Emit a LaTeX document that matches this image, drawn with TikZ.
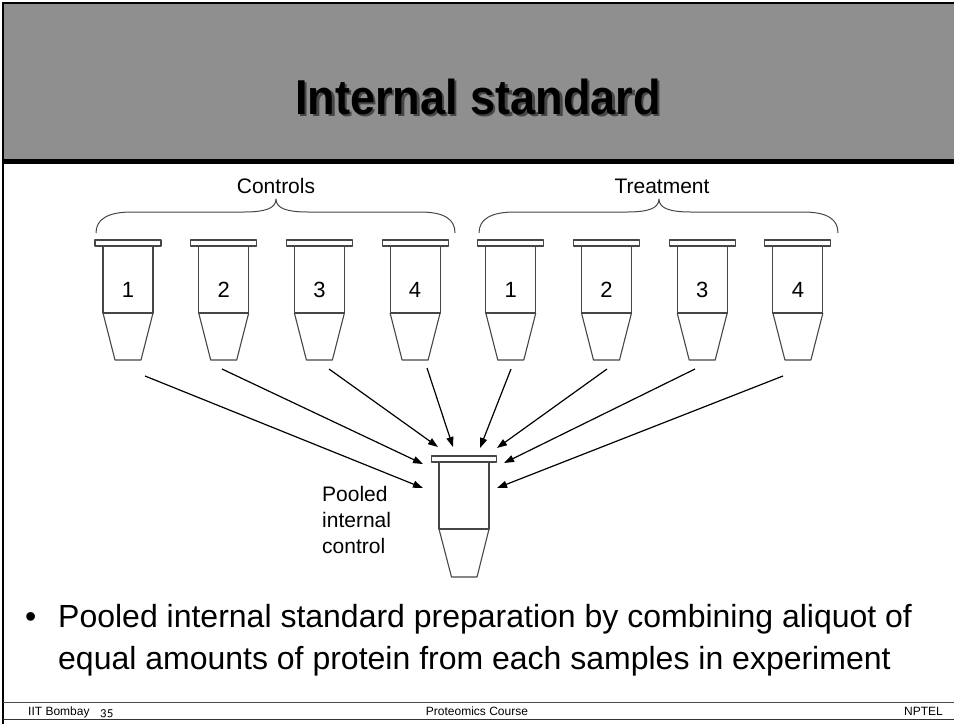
\documentclass[tikz,border=0pt]{standalone}
\usepackage{fontspec}
\setmainfont{Liberation Sans}
\newfontfamily\footnum{Carlito}[Numbers=OldStyle]
\usepackage{tikz}
\usetikzlibrary{arrows.meta}

\definecolor{band}{RGB}{143,143,143}
\definecolor{tubegray}{RGB}{70,70,70}
\definecolor{shade}{RGB}{70,70,70}

\tikzset{
  tubeline/.style={draw=tubegray,line width=1.1pt,line join=round},
  feed/.style={line width=1.2pt,-{Triangle[length=10pt,width=7pt]}},
  label/.style={inner sep=0pt,font=\fontsize{21}{26}\selectfont},
  foot/.style={inner sep=0pt,font=\fontsize{12}{12}\selectfont},
}
\newcommand\titletext{\scalebox{0.92}[1]{Internal standard}}

\begin{document}
\begin{tikzpicture}[x=1pt,y=-1pt]
            \useasboundingbox (0,0) rectangle (954,724);
            % title band and frame
            \fill[band] (3,3) rectangle (954,160);
            \draw[line width=2pt] (3,724) -- (3,3) -- (954,3);
            \fill (3,159) rectangle (954,164);
            \node[font=\fontsize{49}{49}\selectfont\bfseries] (title) at (478,98)
                {\makebox[0pt][l]{\hspace{2.5pt}\raisebox{-2.5pt}{\color{shade}\titletext}}\titletext};
            % braces
            \draw[tubeline,line width=1pt] (96,233) .. controls (96,219) and (108,212) .. (132,212) -- (244,212)
                .. controls (266,212) and (276,208) .. (276,199) .. controls (276,208) and (286,212) .. (308,212)
                -- (420,212) .. controls (444,212) and (455,219) .. (455,233);
            \draw[tubeline,line width=1pt] (479,233) .. controls (479,219) and (491,212) .. (515,212) -- (627,212)
                .. controls (649,212) and (659,208) .. (659,199) .. controls (659,208) and (669,212) .. (691,212)
                -- (803,212) .. controls (827,212) and (838,219) .. (838,233);
            \node[label] (controls) at (276,186) {Controls};
            \node[label] (treatment) at (662,186) {Treatment};
            % sample tubes
            \foreach \n/\lab in {1/1,2/2,3/3,4/4,5/1,6/2,7/3,8/4} {
                \pgfmathsetmacro\cx{128+95.7*(\n-1)}
                \draw[tubeline,fill=white] (\cx-33,240) rectangle (\cx+33,246);
                \draw[tubeline] (\cx-25,246) -- (\cx-25,313) -- (\cx+25,313) -- (\cx+25,246);
                \draw[tubeline] (\cx-25,313) -- (\cx-13,360) -- (\cx+13,360) -- (\cx+25,313);
                \node[label,font=\fontsize{22}{26}\selectfont] (tube\n) at (\cx,290) {\lab};
            }
            % pooled tube
            \draw[tubeline,fill=white] (431.5,456) rectangle (496.5,462);
            \draw[tubeline] (439,462) -- (439,529) -- (489,529) -- (489,462);
            \draw[tubeline] (439,529) -- (451.5,577) -- (477,577) -- (489,529);
            \node[label,align=left,anchor=north west] (pooled) at (322,486) {Pooled\\internal\\control};
            % arrows into the pool
            \foreach \n/\sx/\sy/\ex/\ey in {1/145/376/423/488, 2/222/369/423/464, 3/329/369/438/447,
                4/427/368/453/447, 5/511/369/480/448, 6/607/369/497/448, 7/695/369/504/463, 8/783/376/497/488} {
                \coordinate (from\n) at (\sx,\sy);
                \coordinate (to\n) at (\ex,\ey);
                \draw[feed] (from\n) -- (to\n);
            }
            % bullet text
            \node[inner sep=0pt,anchor=base west,font=\fontsize{32}{42}\selectfont] (dot) at (25,627) {•};
            \node[inner sep=0pt,anchor=north west,align=left,font=\fontsize{32}{42}\selectfont] (note) at (58,604)
                {Pooled internal standard preparation by combining aliquot of\\
                 equal amounts of protein from each samples in experiment};
            % footer
            \draw[line width=1pt,black!70] (3,702) -- (954,702);
            \draw[line width=1pt,black!80] (3,719) -- (954,719);
            \node[foot,anchor=base west] (inst) at (28,715) {IIT Bombay};
            \node[inner sep=0pt,anchor=base west] (page) at (100,716) {\fontsize{13}{13}\selectfont\footnum 35};
            \node[foot,anchor=base] (course) at (477,715) {Proteomics Course};
            \node[foot,anchor=base east] (nptel) at (943,715) {NPTEL};
        \end{tikzpicture}
\end{document}
